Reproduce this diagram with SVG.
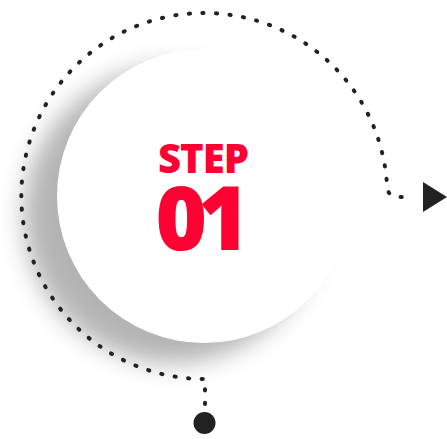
<svg xmlns="http://www.w3.org/2000/svg" width="447" height="439" viewBox="0 0 447 439">
<defs>
<style>
.dots{fill:none;stroke:#222;stroke-width:4;stroke-linecap:round;stroke-dasharray:1.2 12.4}
.ink{fill:#222}
.red{fill:#ff0033;font-family:"Open Sans","Liberation Sans",sans-serif;font-weight:800}
</style>
<filter id="sh" x="-30%" y="-30%" width="160%" height="160%">
<feGaussianBlur stdDeviation="12"/>
</filter>
</defs>
<g id="step-circle">
<circle cx="172" cy="215" r="148" fill="#8c8c8c" opacity="0.65" filter="url(#sh)"/>
<circle cx="204" cy="196" r="147" fill="#fff"/>
<text class="red" x="203" y="173" font-size="40" text-anchor="middle" letter-spacing="-1">STEP</text>
<text class="red" x="198" y="250" font-size="88" text-anchor="middle" letter-spacing="-9">01</text>
</g>
<g id="connectors">
<path class="dots" d="M205 404 L205 379 A183 183 0 1 1 387 185 Q387 197 399 197 L414 197"/>
<circle id="start-dot" class="ink" cx="204.5" cy="423" r="11"/>
<polygon id="arrow-head" class="ink" points="423,182 447,197 423,212"/>
</g>
</svg>
